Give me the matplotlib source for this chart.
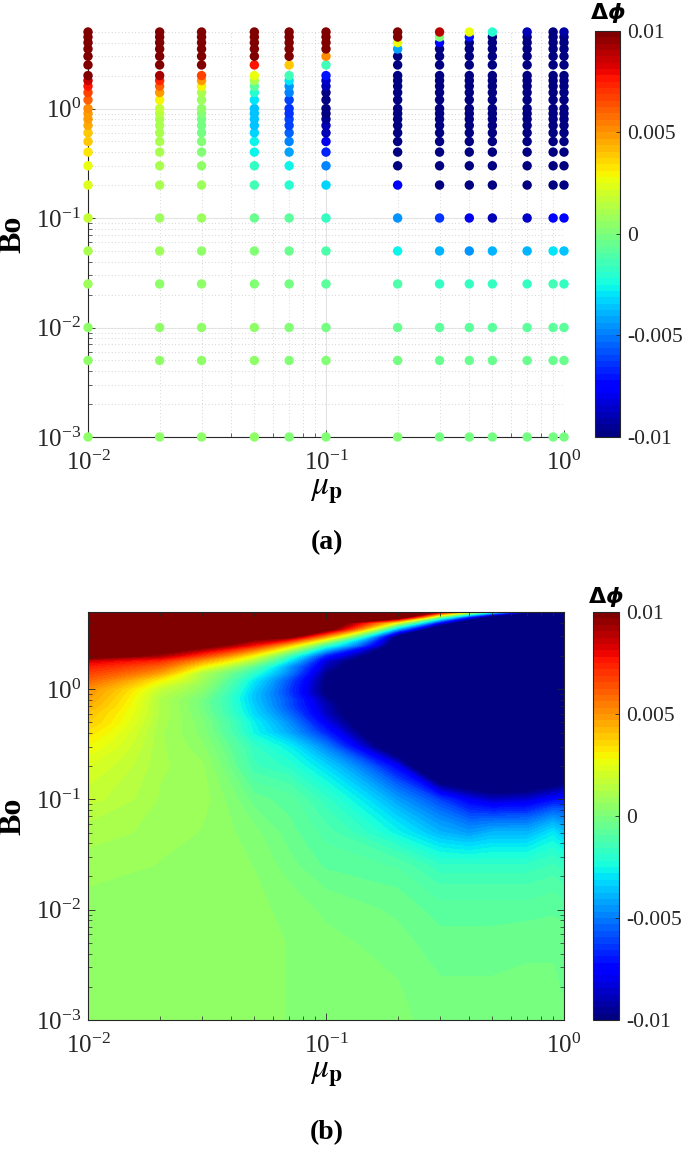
import numpy as np
import matplotlib
matplotlib.use('Agg')
import matplotlib.pyplot as plt
from matplotlib.colors import Normalize
from matplotlib.cm import ScalarMappable

plt.rcParams['font.family'] = ['Liberation Serif', 'DejaVu Serif']
plt.rcParams['mathtext.fontset'] = 'stix'

# particle viscosity ratio (columns) and Bond number (rows)
mu_p = [0.01, 0.02, 0.03, 0.05, 0.07, 0.1, 0.2, 0.3, 0.4, 0.5, 0.7, 0.9, 1.0]
bo = [0.001, 0.005, 0.01, 0.025, 0.05, 0.1, 0.2, 0.3, 0.4, 0.5, 0.6, 0.7, 0.8,
      0.9, 1.0, 1.2, 1.4, 1.6, 1.8, 2.0, 2.5, 3.0, 3.5, 4.0, 4.5, 5.0]

# delta phi, one list per mu_p value, ordered like bo
dphi_001 = [0.0004, 0.0005, 0.0005, 0.0008, 0.0011, 0.0017, 0.0022, 0.0028, 0.0033, 0.0038, 0.0040, 0.0044, 0.0047,
            0.0049, 0.0051, 0.0060, 0.0068, 0.0075, 0.0085, 0.0110, 0.0140, 0.0160, 0.0180, 0.0200, 0.0210, 0.0220]
dphi_002 = [0.0004, 0.0005, 0.0005, 0.0006, 0.0008, 0.0009, 0.0010, 0.0010, 0.0010, 0.0011, 0.0012, 0.0012, 0.0012,
            0.0014, 0.0017, 0.0030, 0.0048, 0.0060, 0.0072, 0.0092, 0.0120, 0.0140, 0.0160, 0.0170, 0.0180, 0.0190]
dphi_003 = [0.0004, 0.0004, 0.0004, 0.0005, 0.0006, 0.0008, 0.0007, 0.0004, 0.0002, 0.0001, -0.0001, -0.0002, -0.0002,
            0.0001, 0.0004, 0.0009, 0.0012, 0.0030, 0.0048, 0.0068, 0.0110, 0.0130, 0.0150, 0.0160, 0.0170, 0.0180]
dphi_005 = [0.0004, 0.0004, 0.0004, 0.0003, 0.0001, -0.0005, -0.0015, -0.0018, -0.0026, -0.0028, -0.0033, -0.0035, -0.0037,
            -0.0037, -0.0035, -0.0030, -0.0020, -0.0008, 0.0010, 0.0027, 0.0078, 0.0110, 0.0130, 0.0140, 0.0150, 0.0160]
dphi_007 = [0.0003, 0.0003, 0.0002, -0.0002, -0.0005, -0.0008, -0.0020, -0.0028, -0.0042, -0.0048, -0.0055, -0.0060, -0.0060,
            -0.0063, -0.0063, -0.0060, -0.0050, -0.0045, -0.0030, -0.0015, 0.0040, 0.0105, 0.0120, 0.0130, 0.0140, 0.0150]
dphi_010 = [0.0002, 0.0001, -0.0001, -0.0007, -0.0011, -0.0018, -0.0033, -0.0050, -0.0068, -0.0080, -0.0088, -0.0090, -0.0095,
            -0.0102, -0.0104, -0.0102, -0.0098, -0.0090, -0.0085, -0.0070, -0.0015, 0.0050, 0.0110, 0.0120, 0.0130, 0.0140]
dphi_020 = [0.0001, -0.0002, -0.0004, -0.0010, -0.0027, -0.0045, -0.0078, -0.0130, -0.0150, -0.0160, -0.0170, -0.0170, -0.0170,
            -0.0170, -0.0170, -0.0170, -0.0165, -0.0160, -0.0150, -0.0140, -0.0120, -0.0110, -0.0042, 0.0025, 0.0120, 0.0130]
dphi_030 = [-0.0002, -0.0005, -0.0008, -0.0018, -0.0040, -0.0063, -0.0160, -0.0180, -0.0190, -0.0200, -0.0200, -0.0200, -0.0200,
            -0.0200, -0.0200, -0.0200, -0.0200, -0.0190, -0.0180, -0.0170, -0.0160, -0.0150, -0.0140, -0.0075, 0.0000, 0.0090]
dphi_040 = [-0.0002, -0.0005, -0.0008, -0.0018, -0.0045, -0.0080, -0.0170, -0.0190, -0.0200, -0.0200, -0.0200, -0.0200, -0.0200,
            -0.0200, -0.0200, -0.0200, -0.0200, -0.0200, -0.0190, -0.0180, -0.0170, -0.0160, -0.0150, -0.0130, -0.0070, 0.0027]
dphi_050 = [-0.0002, -0.0005, -0.0008, -0.0018, -0.0040, -0.0088, -0.0180, -0.0190, -0.0200, -0.0200, -0.0200, -0.0200, -0.0200,
            -0.0200, -0.0200, -0.0200, -0.0200, -0.0200, -0.0200, -0.0190, -0.0180, -0.0170, -0.0160, -0.0140, -0.0120, -0.0020]
dphi_070 = [-0.0002, -0.0004, -0.0008, -0.0018, -0.0040, -0.0085, -0.0170, -0.0190, -0.0200, -0.0200, -0.0200, -0.0200, -0.0200,
            -0.0200, -0.0200, -0.0200, -0.0200, -0.0200, -0.0200, -0.0200, -0.0190, -0.0180, -0.0170, -0.0150, -0.0130, -0.0090]
dphi_090 = [-0.0002, -0.0004, -0.0007, -0.0015, -0.0030, -0.0075, -0.0160, -0.0180, -0.0190, -0.0200, -0.0200, -0.0200, -0.0200,
            -0.0200, -0.0200, -0.0200, -0.0200, -0.0200, -0.0200, -0.0200, -0.0190, -0.0180, -0.0170, -0.0160, -0.0140, -0.0105]
dphi_100 = [-0.0003, -0.0004, -0.0008, -0.0018, -0.0037, -0.0072, -0.0150, -0.0180, -0.0190, -0.0200, -0.0200, -0.0200, -0.0200,
            -0.0200, -0.0200, -0.0200, -0.0200, -0.0200, -0.0200, -0.0200, -0.0190, -0.0180, -0.0170, -0.0160, -0.0140, -0.0093]

dphi = np.array([dphi_001, dphi_002, dphi_003, dphi_005, dphi_007, dphi_010, dphi_020,
                 dphi_030, dphi_040, dphi_050, dphi_070, dphi_090, dphi_100]).T

cb_ticks = [-0.01, -0.005, 0, 0.005, 0.01]
cb_labels = ['-0.01', '-0.005', '0', '0.005', '0.01']

W, H = 685, 1149
fig = plt.figure(figsize=(W / 100, H / 100), dpi=100)
cmap64 = plt.get_cmap('jet', 64)
norm = Normalize(vmin=-0.01, vmax=0.01)

def rect(x0, y_top, x1, y_bot):
    return [x0 / W, 1 - y_bot / H, (x1 - x0) / W, (y_bot - y_top) / H]

def style_axes(ax, box):
    ax.set_xscale('log')
    ax.set_yscale('log')
    ax.set_xlim(0.01, 1)
    ax.set_ylim(0.001, 5)
    ax.tick_params(which='both', direction='in', labelsize=18, top=box, right=box, colors='#262626')
    ax.tick_params(which='major', length=5, width=0.6)
    ax.tick_params(which='minor', length=3, width=0.5)
    ax.tick_params(axis='x', pad=10)
    ax.tick_params(axis='y', pad=5)
    for side in ['top', 'right']:
        ax.spines[side].set_visible(box)
    for sp in ax.spines.values():
        sp.set_color('#262626')
        sp.set_linewidth(0.8)
    ax.set_xlabel(r'$\mu_{\mathbf{p}}$', fontsize=24, labelpad=0)
    ax.set_ylabel('Bo', fontsize=23, fontweight='bold', labelpad=6)

def add_cbar(cax, y_lab):
    cb = fig.colorbar(ScalarMappable(norm=norm, cmap=cmap64), cax=cax, ticks=cb_ticks)
    cb.ax.set_yticklabels(cb_labels)
    cb.ax.tick_params(direction='in', length=3, width=0.6, labelsize=15.5, pad=5, colors='#262626')
    cb.outline.set_edgecolor('#262626')
    cb.outline.set_linewidth(0.8)
    fig.text(cax.get_position().x0 + cax.get_position().width / 2, 1 - y_lab / H,
             r'$\mathbf{\Delta}\mathbfit{\phi}$', math_fontfamily='dejavusans',
             fontsize=16, ha='center', va='center')

# (a) scatter of sampled cases
ax1 = fig.add_axes(rect(88, 32, 564, 437))
style_axes(ax1, box=False)
ax1.grid(True, which='major', color='#e3e3e3', linewidth=0.8, linestyle='-')
ax1.grid(True, which='minor', color='#c8c8c8', linewidth=0.6, linestyle=(0, (1, 3)))
ax1.set_axisbelow(True)
MU, BO = np.meshgrid(mu_p, bo)
ax1.scatter(MU.ravel(), BO.ravel(), c=dphi.ravel(), cmap=cmap64, norm=norm,
            s=46, edgecolors='none', clip_on=False, zorder=3)
cax1 = fig.add_axes(rect(595, 31, 620, 437))
add_cbar(cax1, 13)
fig.text(327 / W, 1 - 543 / H, '(a)', fontsize=20, fontweight='bold', ha='center', va='center')

# (b) filled contour of the same data
ax2 = fig.add_axes(rect(88, 612, 564, 1020))
levels = np.linspace(-0.01, 0.01, 65)
ax2.contourf(mu_p, bo, dphi, levels=levels, cmap='jet', extend='both')
style_axes(ax2, box=True)
ax2.set_axisbelow(False)
cax2 = fig.add_axes(rect(593, 612, 619, 1020))
add_cbar(cax2, 597)
fig.text(327 / W, 1 - 1133 / H, '(b)', fontsize=20, fontweight='bold', ha='center', va='center')

fig.savefig('out.png', dpi=100)
